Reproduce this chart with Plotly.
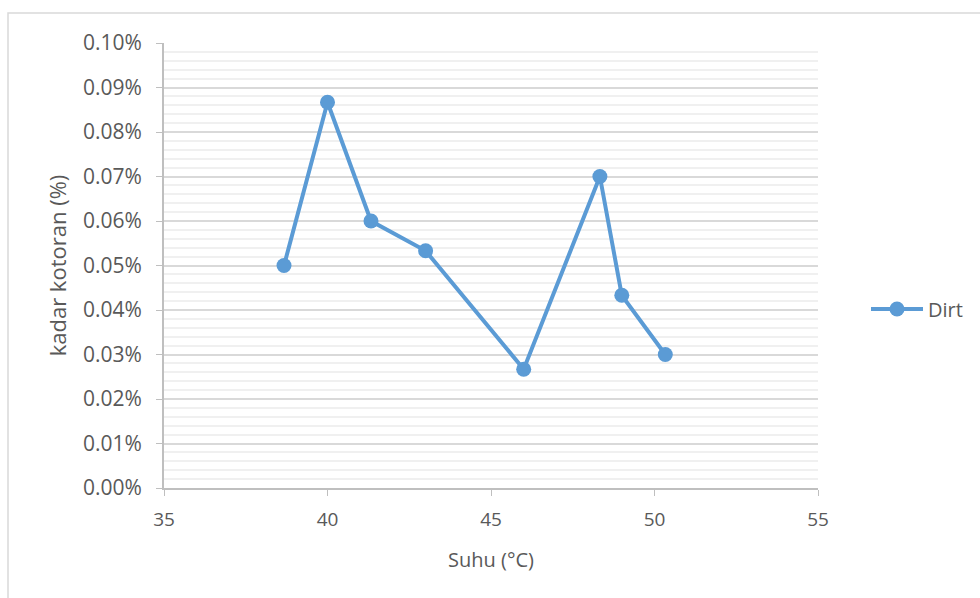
import plotly.graph_objects as go

# Temperature (°C) and dirt content (fraction) measurements
suhu = [38.67, 40.0, 41.33, 43.0, 46.0, 48.33, 49.0, 50.33]
kadar_kotoran = [0.00050, 0.000867, 0.00060, 0.000533, 0.000267, 0.00070, 0.000433, 0.00030]
series_name = "Dirt"

x_ticks = [35, 40, 45, 50, 55]
y_ticks = [0, 0.0001, 0.0002, 0.0003, 0.0004, 0.0005, 0.0006, 0.0007, 0.0008, 0.0009, 0.0010]

W, H = 980, 598
L, R, T, B = 164, 162, 43, 110
pw, ph = W - L - R, H - T - B

def px_x(p):
    return (p - L) / pw

def px_y(p):
    return (H - B - p) / ph

blue = "#5b9bd5"
text_col = "#595959"
font = "Open Sans"

fig = go.Figure()
fig.add_trace(go.Scatter(
    x=suhu, y=kadar_kotoran, mode="lines+markers", name=series_name,
    line=dict(color=blue, width=4),
    marker=dict(color=blue, size=15),
))

fig.update_layout(
    width=W, height=H,
    margin=dict(l=L, r=R, t=T, b=B, autoexpand=False),
    paper_bgcolor="white", plot_bgcolor="white",
    font=dict(family=font, size=16, color=text_col),
    showlegend=True,
    legend=dict(x=px_x(866), y=px_y(309), xanchor="left", yanchor="middle",
                font=dict(family=font, size=20, color=text_col),
                bgcolor="rgba(0,0,0,0)", itemwidth=52),
    xaxis=dict(
        range=[35, 55], tickvals=x_ticks, showgrid=False, zeroline=False,
        showline=True, linecolor="#bfbfbf", linewidth=2,
        ticks="outside", ticklen=6, tickcolor="#bfbfbf", tickwidth=1,
        ticklabelstandoff=7,
        tickfont=dict(family=font, size=19, color=text_col),
        title=dict(text="Suhu (°C)", font=dict(family=font, size=20, color=text_col), standoff=22),
    ),
    yaxis=dict(
        range=[0, 0.0010], tickvals=y_ticks, tickformat=".2%",
        showgrid=True, gridcolor="#d9d9d9", gridwidth=1.5, zeroline=False,
        showline=True, linecolor="#bfbfbf", linewidth=2,
        ticks="outside", ticklen=6, tickcolor="#bfbfbf", tickwidth=1,
        ticklabelstandoff=10,
        tickfont=dict(family=font, size=21, color=text_col),
        minor=dict(dtick=0.00002, showgrid=True, gridcolor="#f0f0f0", gridwidth=1.5),
        title=dict(text="kadar kotoran (%)", font=dict(family=font, size=22, color=text_col), standoff=10),
    ),
    shapes=[dict(type="rect", xref="paper", yref="paper",
                 x0=px_x(8), x1=px_x(W + 20), y0=px_y(H + 20), y1=px_y(13),
                 line=dict(color="#d9d9d9", width=1.5), fillcolor="rgba(0,0,0,0)", layer="below")],
)

fig.write_html("out.html")
